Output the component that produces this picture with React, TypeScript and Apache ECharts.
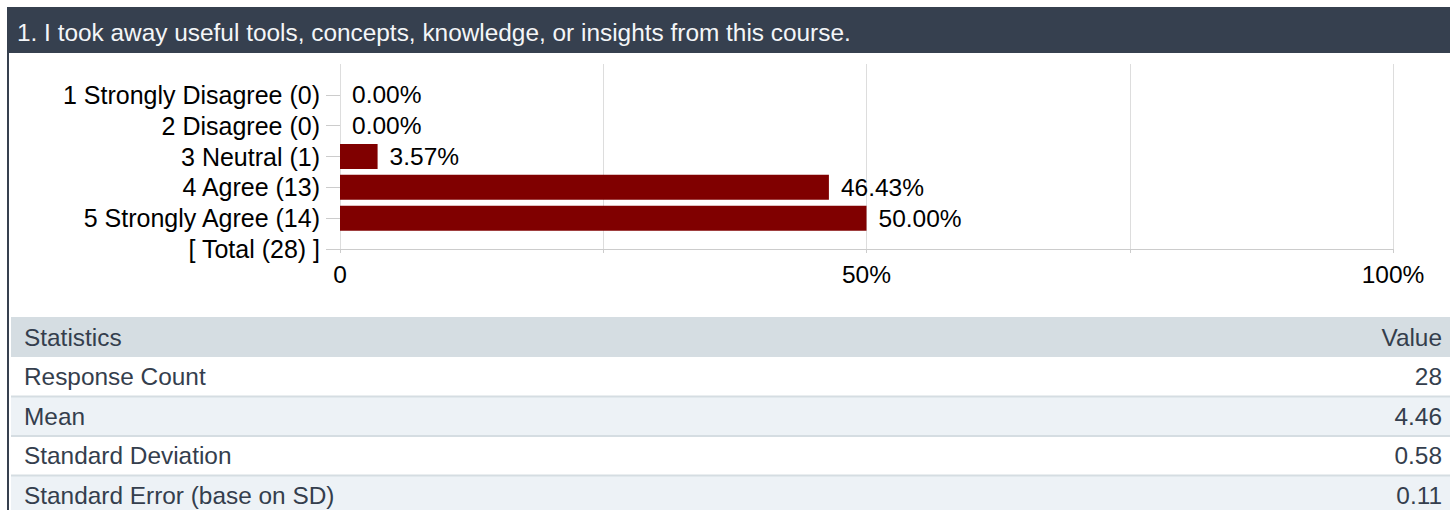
import React, { useEffect, useRef } from "react";
import * as echarts from "echarts";

const title = "1. I took away useful tools, concepts, knowledge, or insights from this course.";
const categories = [
  "",
  "1 Strongly Disagree (0)",
  "2 Disagree (0)",
  "3 Neutral (1)",
  "4 Agree (13)",
  "5 Strongly Agree (14)",
  "[ Total (28) ]",
];
const percents: (number | string)[] = ["-", 0, 0, 3.57, 46.43, 50.0, "-"];
const xMin = 0;
const xMax = 100;
const xInterval = 25;
const xLabelShown = [0, 50, 100];

const statHeader = ["Statistics", "Value"];
const statLabels = ["Response Count", "Mean", "Standard Deviation", "Standard Error (base on SD)"];
const statValues = ["28", "4.46", "0.58", "0.11"];

const FONT = "'Liberation Sans', Arial, sans-serif";

export default function App() {
  const ref = useRef<HTMLDivElement>(null);
  useEffect(() => {
    if (!ref.current) return;
    const chart = echarts.init(ref.current, null, { renderer: "svg" });

    const W = 1450;
    const tableX = 11;
    const headY = 317;
    const headH = 40;
    const rowPitch = 39.5;
    const textColor = "#343e4d";
    const tFont = `24.4px ${FONT}`;
    const chartFs = 24.5;

    const graphics: any[] = [
      { type: "rect", shape: { x: 7, y: 7, width: W - 7, height: 46 }, style: { fill: "#36404f" }, z: 10 },
      { type: "rect", shape: { x: 7, y: 53, width: 2, height: 510 - 53 }, style: { fill: "#36404f" }, z: 10 },
      {
        type: "text",
        x: 17,
        y: 32,
        style: { text: title, fill: "#f4f6f8", font: `24.4px ${FONT}`, verticalAlign: "middle" },
        z: 11,
      },
      { type: "rect", shape: { x: tableX, y: headY, width: W - tableX, height: headH }, style: { fill: "#d5dde2" }, z: 10 },
      {
        type: "text",
        x: 24,
        y: headY + headH / 2,
        style: { text: statHeader[0], fill: textColor, font: tFont, verticalAlign: "middle" },
        z: 11,
      },
      {
        type: "text",
        x: 1442,
        y: headY + headH / 2,
        style: { text: statHeader[1], fill: textColor, font: tFont, verticalAlign: "middle", align: "right" },
        z: 11,
      },
    ];
    statLabels.forEach((lab, i) => {
      const top = headY + headH + i * rowPitch;
      graphics.push({
        type: "rect",
        shape: { x: tableX, y: top, width: W - tableX, height: rowPitch },
        style: { fill: i % 2 === 1 ? "#edf2f6" : "#ffffff" },
        z: 10,
      });
      if (i > 0) {
        graphics.push({
          type: "rect",
          shape: { x: tableX, y: top - 1, width: W - tableX, height: 2 },
          style: { fill: "#d5dde2" },
          z: 10,
        });
      }
      graphics.push({
        type: "text",
        x: 24,
        y: top + rowPitch / 2,
        style: { text: lab, fill: textColor, font: tFont, verticalAlign: "middle" },
        z: 11,
      });
      graphics.push({
        type: "text",
        x: 1442,
        y: top + rowPitch / 2,
        style: { text: statValues[i], fill: textColor, font: tFont, verticalAlign: "middle", align: "right" },
        z: 11,
      });
    });

    chart.setOption({
      animation: false,
      backgroundColor: "#ffffff",
      textStyle: { fontFamily: FONT },
      grid: { left: 340, right: W - 1393, top: 64, height: 185, containLabel: false },
      xAxis: {
        type: "value",
        min: xMin,
        max: xMax,
        interval: xInterval,
        axisLine: { show: true, lineStyle: { color: "#cccccc", width: 1 } },
        axisTick: { show: true, length: 4, lineStyle: { color: "#cccccc" } },
        splitLine: { show: true, lineStyle: { color: "#dddddd", width: 1 } },
        axisLabel: {
          margin: 13,
          color: "#000000",
          fontSize: chartFs,
          fontFamily: FONT,
          formatter: (v: number) => (xLabelShown.indexOf(v) >= 0 ? (v === 0 ? "0" : v + "%") : ""),
        },
      },
      yAxis: {
        type: "category",
        inverse: true,
        data: categories,
        boundaryGap: false,
        axisLine: { show: false },
        axisTick: {
          show: true,
          length: 14,
          interval: (idx: number) => idx > 0,
          lineStyle: { color: "#cccccc" },
        },
        splitLine: { show: false },
        axisLabel: { margin: 20, color: "#000000", fontSize: 25, fontFamily: FONT, interval: 0 },
      },
      series: [
        {
          type: "bar",
          data: percents,
          barWidth: 25,
          itemStyle: { color: "#800000" },
          label: {
            show: true,
            position: "right",
            distance: 12,
            color: "#000000",
            fontSize: chartFs,
            fontFamily: FONT,
            formatter: (p: any) => Number(p.value).toFixed(2) + "%",
          },
        },
      ],
      graphic: graphics,
    });
    return () => chart.dispose();
  }, []);
  return <div ref={ref} style={{ position: "absolute", left: 0, top: 0, width: 1450, height: 510 }} />;
}
